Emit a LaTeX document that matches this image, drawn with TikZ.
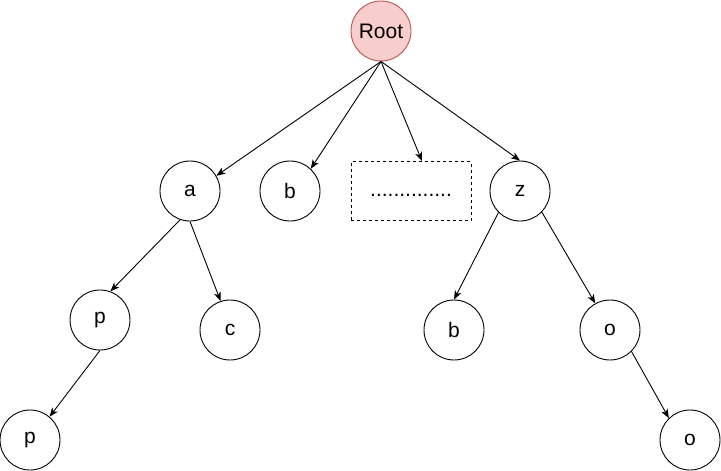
\documentclass[tikz,border=0pt]{standalone}
\usepackage{fontspec}
\setmainfont{Liberation Sans}
\usetikzlibrary{arrows.meta, positioning}
\definecolor{rootfill}{RGB}{248,206,204}
\definecolor{rootdraw}{RGB}{184,84,80}
\tikzset{
  trie/.style={circle, draw=black, fill=white, minimum size=60pt,
    inner sep=0pt, line width=0.9pt, font=\fontsize{21}{25}\selectfont},
  rootnode/.style={trie, draw=rootdraw, fill=rootfill},
  dotbox/.style={rectangle, draw=black, dash pattern=on 3pt off 3pt,
    minimum width=120pt, minimum height=59pt, inner sep=0pt,
    text height=15pt, text depth=5pt,
    line width=0.9pt, font=\fontsize{21}{25}\selectfont},
  arrow/.style={-{Stealth[length=9pt, width=7pt, inset=2.5pt]}, line width=0.9pt, color=black}
}
\begin{document}
\begin{tikzpicture}[x=1pt, y=-1pt]
  \useasboundingbox (0,0) rectangle (721,471);
  % root and first level
  \node[rootnode] (root) at (381,31) {Root};
  \node[trie] (na) at (190,191) {a};
  \node[trie] (nb) at (290,191) {b};
  \node[dotbox] (ndots) at (411,191) {..............};
  \node[trie] (nz) at (520,191) {z};
  % second level
  \node[trie] (np) at (100,320) {p};
  \node[trie] (nc) at (230,330) {c};
  \node[trie] (nzb) at (454,330) {b};
  \node[trie] (no) at (610,330) {o};
  % third level
  \node[trie] (npp) at (30,440) {p};
  \node[trie] (noo) at (690,440) {o};
  % edges
  \coordinate (dotstop) at ([xshift=11pt]ndots.north);
  \draw[arrow] (root.south) -- (na.30);
  \draw[arrow] (root.south) -- (nb.47);
  \draw[arrow] (root.south) -- (dotstop);
  \draw[arrow] (root.south) -- (nz.north);
  \draw[arrow] (na.-109) -- (np.70);
  \draw[arrow] (na.south) -- (nc.108);
  \draw[arrow] (np.south) -- (npp.50);
  \draw[arrow] (nz.-135) -- (nzb.north);
  \draw[arrow] (nz.-44) -- (no.119);
  \draw[arrow] (no.-45) -- (noo.134);
\end{tikzpicture}
\end{document}
